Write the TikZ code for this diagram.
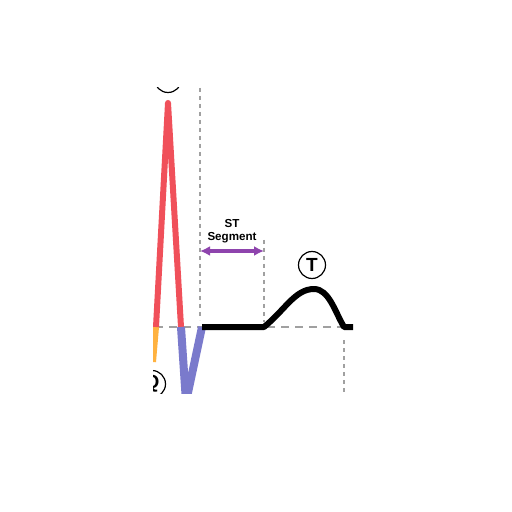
\documentclass[tikz,border=0pt]{standalone}
\usepackage{fontspec}
\setmainfont{Liberation Sans}
\usetikzlibrary{arrows.meta,positioning}
\definecolor{rwave}{RGB}{240,80,90}
\definecolor{qwave}{RGB}{255,178,64}
\definecolor{swave}{RGB}{122,122,204}
\definecolor{stpurple}{RGB}{142,68,173}
\definecolor{guide}{RGB}{160,160,160}
\tikzset{
  guideline/.style={guide,line width=0.6pt,dash pattern=on 2pt off 2pt},
  baseline/.style={guide,line width=0.6pt,dash pattern=on 4pt off 3pt},
  wavelabel/.style={circle,draw,line width=0.6pt,fill=white,inner sep=0pt,
    minimum size=13.5pt,font=\bfseries\fontsize{9.5}{9.5}\selectfont},
}
\begin{document}
\begin{tikzpicture}[x=0.5pt,y=-0.5pt,line join=round]
  \useasboundingbox[fill=white] (0,0) rectangle (512,512);
  % --- visible window of the trace ---
  \clip (153,88) rectangle (353,393);
  % --- key points of the trace (pixel grid, y down) ---
  \def\yb{327}
  \coordinate (qtop) at (156,\yb);
  \coordinate (rpeak) at (168,103);
  \coordinate (rend) at (181,\yb);
  \coordinate (sbot) at (186,402);
  \coordinate (j) at (202,\yb);
  \coordinate (tstart) at (264,\yb);
  \coordinate (tpeak) at (314,289);
  \coordinate (tend) at (344,\yb);
  % --- guide lines ---
  \draw[baseline] (155,\yb) -- (344,\yb);
  \draw[guideline] (200,88) -- (200,320);
  \draw[guideline] (264,240) -- (264,322);
  \draw[guideline] (344,340) -- (344,393);
  % --- waves ---
  \draw[qwave,line width=3pt] (qtop) -- (153,362);
  \draw[rwave,line width=3pt] (qtop) -- (rpeak) -- (rend);
  \draw[swave,line width=4pt] (rend) -- (sbot) -- (j);
  \draw[black,line width=3pt] (j) -- (tstart)
    .. controls (285,310) and (295,289) .. (tpeak)
    .. controls (329,289) and (335,312) .. (tend) -- (356,\yb);
  % --- ST segment marker ---
  \node[font=\bfseries\fontsize{5.8}{6.4}\selectfont,align=center]
    (stlabel) at (232,231) {ST\\Segment};
  \coordinate (stleft) at (200,251);
  \coordinate (stright) at (264,251);
  \draw[stpurple,line width=2pt,{Latex[length=5pt,width=5pt]}-{Latex[length=5pt,width=5pt]}]
    (stleft) -- (stright);
  % --- wave labels ---
  \node[wavelabel] (tlabel) at (312,265) {T};
  \node[wavelabel] (rlabel) at (168,79) {R};
  \node[wavelabel] (qlabel) at (152,384) {Q};
\end{tikzpicture}
\end{document}
